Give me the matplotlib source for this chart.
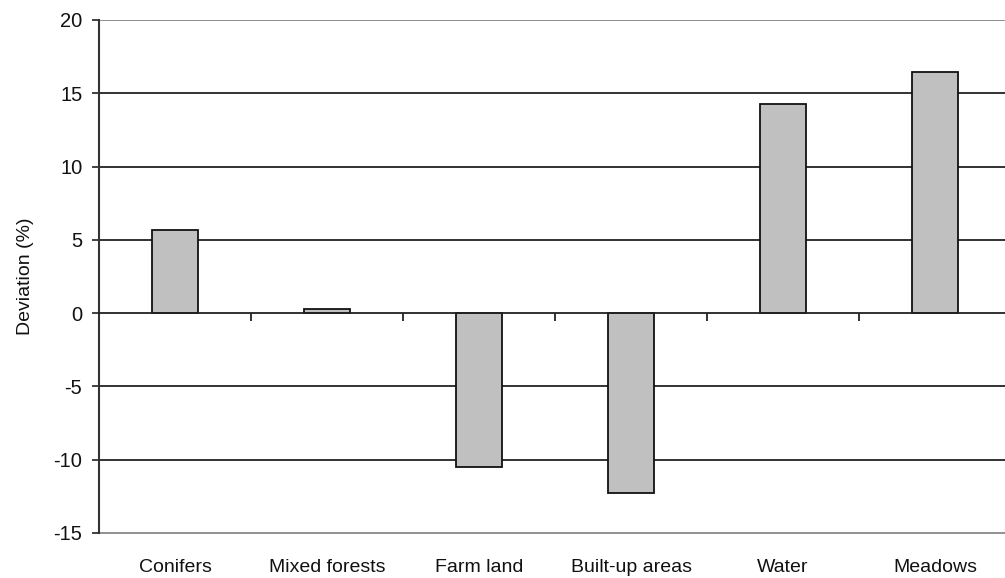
import numpy as np
import matplotlib
matplotlib.use('Agg')
import matplotlib.pyplot as plt

plt.rcParams['font.family'] = ['Liberation Sans', 'DejaVu Sans']
plt.rcParams['axes.unicode_minus'] = False

#%% data
categories = ['Conifers', 'Mixed forests', 'Farm land', 'Built-up areas', 'Water', 'Meadows']
deviation = [5.7, 0.3, -10.5, -12.3, 14.3, 16.45]
yticks = [-15, -10, -5, 0, 5, 10, 15, 20]

#%% plot
fig = plt.figure(figsize=(10.05, 5.78), dpi=100)
ax = fig.add_axes([0.0985, 0.0779, 0.9075, 0.8875])

x = np.arange(len(categories))

# horizontal gridlines
for v in yticks[1:-1]:
    if v != 0:
        ax.axhline(v, color='#222222', lw=1.3, zorder=0)
ax.axhline(20, color='#888888', lw=1.3, zorder=0)

ax.bar(x, deviation, width=0.30, color='#c0c0c0', edgecolor='#111111', lw=1.3, zorder=2)

ax.set_xlim(-0.5, len(categories) - 0.5)
ax.set_ylim(-15, 20)
ax.set_yticks(yticks)
ax.tick_params(axis='y', direction='out', length=5, width=1.3, colors='#333333',
               labelsize=14.5, labelcolor='#111111', pad=7)

# category axis sits on zero, ticks between categories
ax.spines['bottom'].set_position(('data', 0))
ax.spines['bottom'].set_color('#222222')
ax.spines['bottom'].set_linewidth(1.3)
ax.spines['bottom'].set_zorder(3)
ax.set_xticks(np.arange(len(categories) + 1) - 0.5)
ax.set_xticklabels([])
ax.tick_params(axis='x', direction='out', length=6, width=1.3, colors='#222222')

for s in ['top', 'right']:
    ax.spines[s].set_visible(False)
ax.spines['left'].set_color('#333333')
ax.spines['left'].set_linewidth(1.5)

# labels along the bottom edge
sec = ax.secondary_xaxis(0)
sec.set_xticks(x)
sec.set_xticklabels(categories)
sec.tick_params(length=0, labelsize=14, pad=19, labelcolor='#111111')
sec.spines['bottom'].set_color('#888888')
sec.spines['bottom'].set_linewidth(1.3)

ax.set_ylabel('Deviation (%)', fontsize=14, color='#111111', labelpad=14)

fig.savefig('out.png', dpi=100)
